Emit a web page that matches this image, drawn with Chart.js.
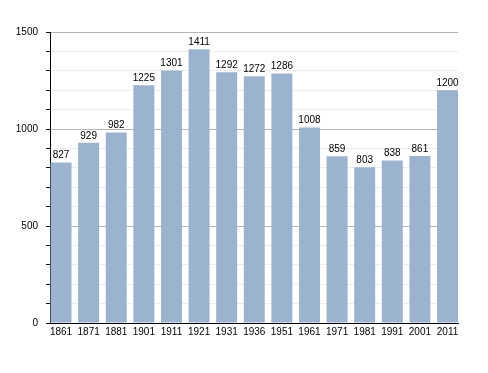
<!DOCTYPE html>
<html>
<head>
<meta charset="utf-8">
<script src="https://cdn.jsdelivr.net/npm/chart.js@4/dist/chart.umd.min.js"></script>
<style>
  html, body { margin: 0; padding: 0; background: #fff; }
  #wrap { width: 488px; height: 373px; }
</style>
</head>
<body>
<div id="wrap"><canvas id="myChart" width="488" height="373"></canvas></div>
<script>
// census years and population
var years = ['1861', '1871', '1881', '1901', '1911', '1921', '1931', '1936', '1951', '1961', '1971', '1981', '1991', '2001', '2011'];
var population = [827, 929, 982, 1225, 1301, 1411, 1292, 1272, 1286, 1008, 859, 803, 838, 861, 1200];
var yLabels = [0, 500, 1000, 1500];

var points = population.map(function(v, i) { return { x: i, y: v }; });

// labels above each bar
var valueLabels = {
  id: 'valueLabels',
  afterDatasetsDraw: function(chart) {
    var ctx = chart.ctx;
    var meta = chart.getDatasetMeta(0);
    ctx.save();
    ctx.font = '10px "Liberation Sans", Arial, sans-serif';
    ctx.fillStyle = '#000';
    ctx.textAlign = 'center';
    ctx.textBaseline = 'bottom';
    meta.data.forEach(function(bar, i) {
      ctx.fillText(population[i], bar.x, bar.y - 2);
    });
    ctx.restore();
  }
};

var ctx = document.getElementById('myChart').getContext('2d');
var chart = new Chart(ctx, {
  type: 'bar',
  data: {
    datasets: [{
      data: points,
      backgroundColor: '#9bb3ce',
      borderWidth: 0,
      barPercentage: 0.76,
      categoryPercentage: 1
    }]
  },
  options: {
    responsive: false,
    animation: false,
    layout: { padding: { top: 32, right: 30, left: 0, bottom: 0 } },
    plugins: {
      legend: { display: false },
      tooltip: { enabled: false }
    },
    scales: {
      x: {
        type: 'linear',
        offset: false,
        min: -0.4,
        max: 14.38,
        afterBuildTicks: function(axis) {
          axis.ticks = years.map(function(y, i) { return { value: i }; });
        },
        afterFit: function(axis) { axis.height = 50; },
        grid: { display: false, drawTicks: false, offset: false },
        border: { display: true, color: '#000', width: 1 },
        ticks: {
          padding: 3,
          autoSkip: false,
          maxRotation: 0,
          color: '#000',
          font: { family: '"Liberation Sans", Arial, sans-serif', size: 10 },
          callback: function(value) { return years[value] || ''; }
        }
      },
      y: {
        min: 0,
        max: 1500,
        afterFit: function(axis) { axis.width = 50; },
        afterBuildTicks: function(axis) {
          var t = [];
          for (var v = 0; v <= 1500; v += 100) t.push({ value: v });
          axis.ticks = t;
        },
        border: { display: true, color: '#000', width: 1 },
        grid: {
          color: function(c) {
            if (c.tick && c.tick.value % 500 === 0) return '#b4b4b4';
            return '#ececec';
          },
          tickColor: '#000',
          tickLength: 4
        },
        ticks: {
          padding: 8,
          color: '#000',
          font: { family: '"Liberation Sans", Arial, sans-serif', size: 10 },
          callback: function(value) {
            return yLabels.indexOf(value) >= 0 ? value : '';
          }
        }
      }
    }
  },
  plugins: [valueLabels]
});
</script>
</body>
</html>
